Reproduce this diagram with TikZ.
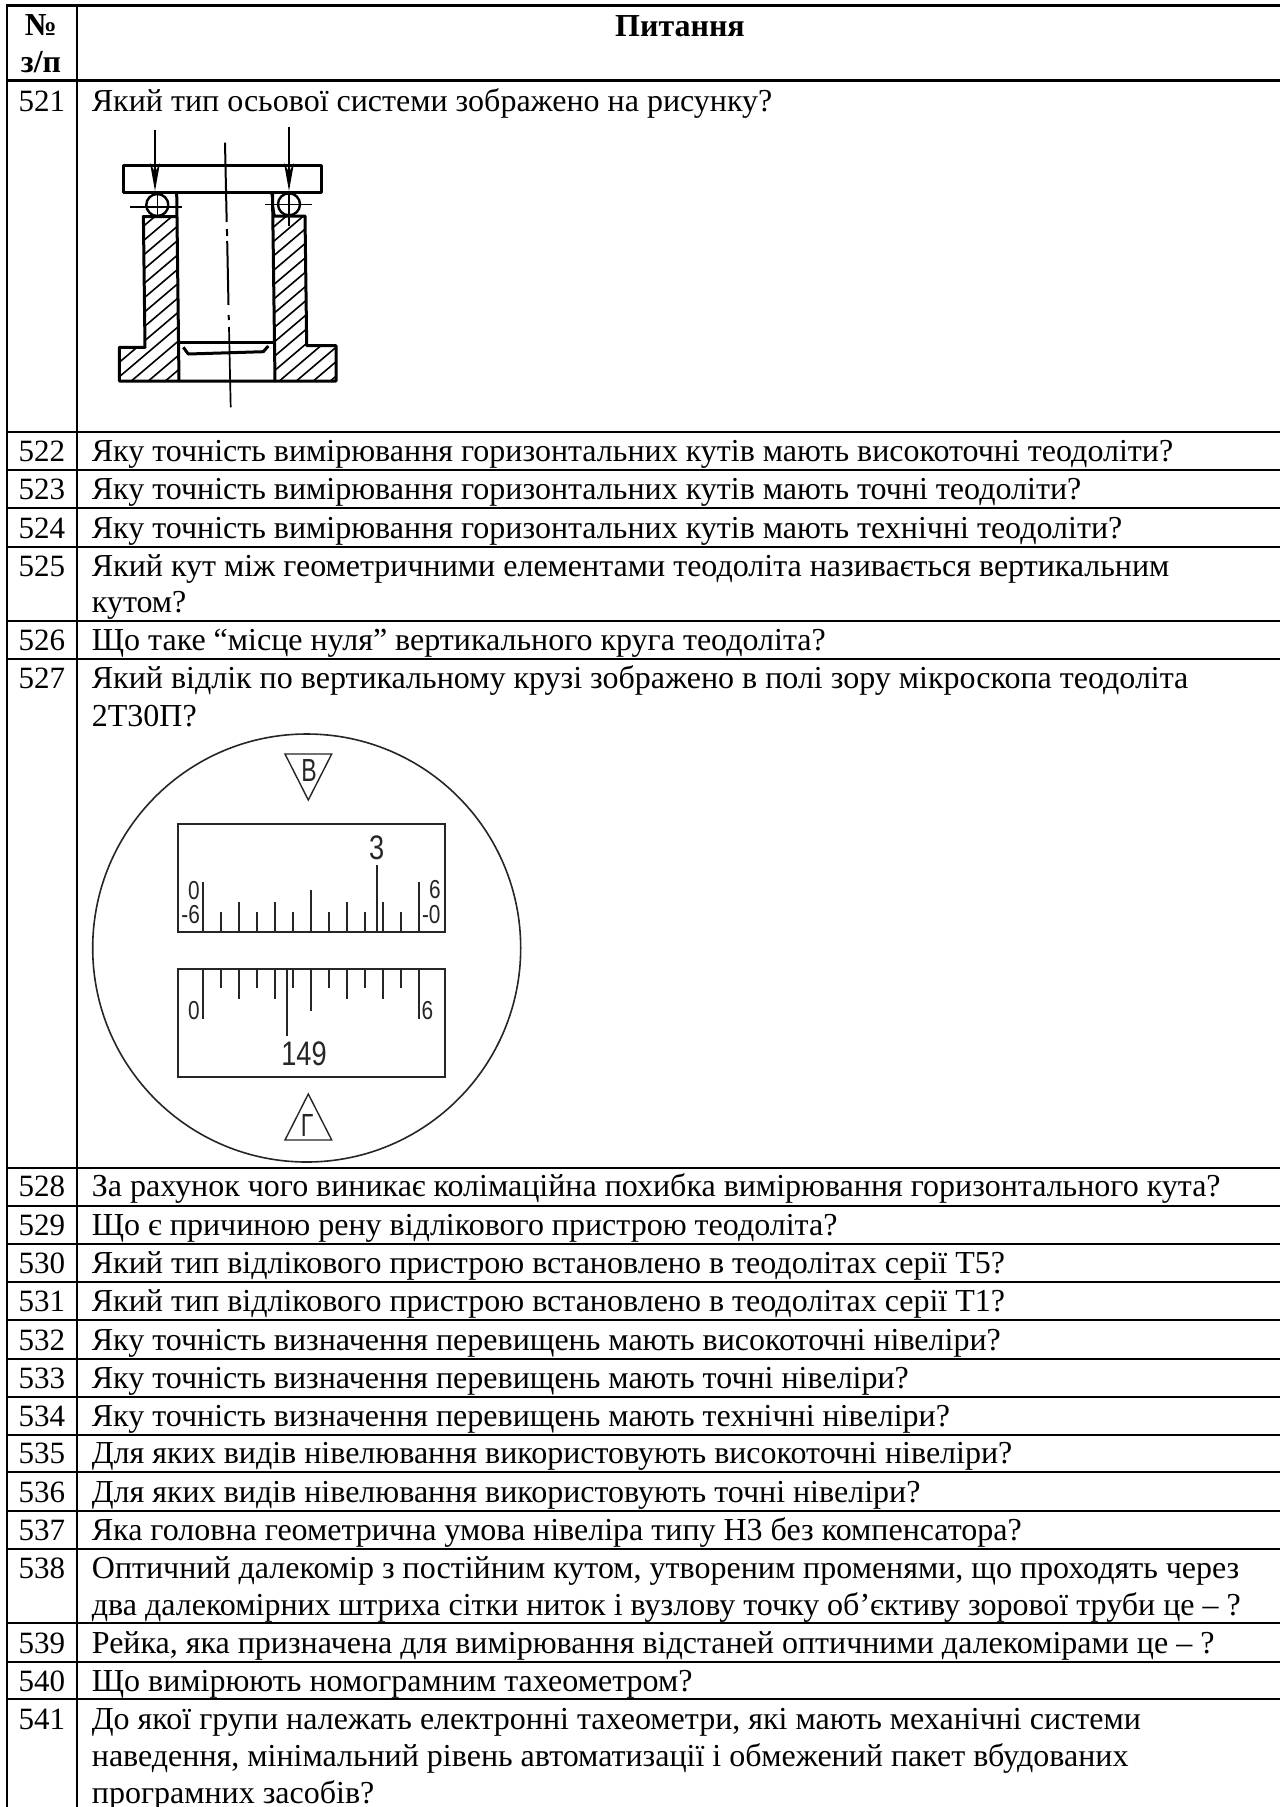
\documentclass[tikz,border=0pt]{standalone}
\usepackage{fontspec}
\setmainfont{Liberation Serif}
\setsansfont{Liberation Sans}
\usepackage{tikz}
\usetikzlibrary{arrows.meta}
\definecolor{dialInk}{gray}{0.15}

\begin{document}
\begin{tikzpicture}[x=1pt,y=-1pt]
	\tikzset{rule/.style = {line width=2.2pt, black}}
	\tikzset{num/.style = {anchor=base west, inner sep=0pt, font=\fontsize{31}{37}\selectfont}}
	\tikzset{ask/.style = {anchor=base west, inner sep=0pt, font=\fontsize{32}{37}\selectfont}}
	\tikzset{head/.style = {anchor=base, inner sep=0pt, font=\fontsize{32}{37}\selectfont\bfseries}}
	\tikzset{outline/.style = {line width=3pt, black, line join=round}}
	\tikzset{thinline/.style = {line width=1.6pt, black}}
	\tikzset{hatchline/.style = {line width=1.6pt, black}}
	\tikzset{pressure/.style = {-{Stealth[length=28pt,width=10pt]}, line width=1.8pt, black}}
	\tikzset{frame/.style = {line width=2pt, dialInk}}
	\tikzset{tick/.style = {line width=1.7pt, dialInk}}
	\tikzset{dial/.style = {inner sep=0pt, text=dialInk, font=\fontsize{26}{26}\selectfont\sffamily, xscale=0.8, transform shape}}
	\tikzset{dialBig/.style = {dial, font=\fontsize{34}{34}\selectfont\sffamily}}
	\tikzset{dialLetter/.style = {dial, font=\fontsize{32}{32}\selectfont\sffamily, xscale=0.9, transform shape}}
	\useasboundingbox (0,0) rectangle (1280,1807);
	\fill[white] (0,0) rectangle (1280,1807);

	% table rules
	\foreach \y in {5.5,80.5,432,470,508,546.7,621,659,1167.7,1205.7,1243.7,1282,1319.7,1358.7,1396.7,1435,1472.3,1510.7,1548.7,1623,1661.7,1699.3}
		\draw[rule] (6,\y) -- (1280,\y);
	\draw[rule] (7,4.4) -- (7,1807);
	\draw[rule] (76.7,4.4) -- (76.7,1807);

	% header
	\node[head] (hno) at (41,35) {№};
	\node[head] (hpp) at (41,72) {з/п};
	\node[head] (hq) at (680,36) {Питання};

	% rows
	\node[num] (n521) at (18.3,111) {521};
	\node[ask] (q521) at (91.7,111) {Який тип осьової системи зображено на рисунку?};
	\node[num] (n522) at (18.3,461.7) {522};
	\node[ask] (q522) at (91.7,461.7) {Яку точність вимірювання горизонтальних кутів мають високоточні теодоліти?};
	\node[num] (n523) at (18.3,499.3) {523};
	\node[ask] (q523) at (91.7,499.3) {Яку точність вимірювання горизонтальних кутів мають точні теодоліти?};
	\node[num] (n524) at (18.3,538.3) {524};
	\node[ask] (q524) at (91.7,538.3) {Яку точність вимірювання горизонтальних кутів мають технічні теодоліти?};
	\node[num] (n525) at (18.3,576) {525};
	\node[ask] (q525) at (91.7,576) {Який кут між геометричними елементами теодоліта називається вертикальним};
	\node[ask] (q525b) at (91.7,612.7) {кутом?};
	\node[num] (n526) at (18.3,650.7) {526};
	\node[ask] (q526) at (91.7,650.7) {Що таке “місце нуля” вертикального круга теодоліта?};
	\node[num] (n527) at (18.3,688.7) {527};
	\node[ask] (q527) at (91.7,688.7) {Який відлік по вертикальному крузі зображено в полі зору мікроскопа теодоліта};
	\node[ask] (q527b) at (91.7,726) {2Т30П?};
	\node[num] (n528) at (18.3,1196.7) {528};
	\node[ask] (q528) at (91.7,1196.7) {За рахунок чого виникає колімаційна похибка вимірювання горизонтального кута?};
	\node[num] (n529) at (18.3,1235) {529};
	\node[ask] (q529) at (91.7,1235) {Що є причиною рену відлікового пристрою теодоліта?};
	\node[num] (n530) at (18.3,1273.3) {530};
	\node[ask] (q530) at (91.7,1273.3) {Який тип відлікового пристрою встановлено в теодолітах серії Т5?};
	\node[num] (n531) at (18.3,1311.7) {531};
	\node[ask] (q531) at (91.7,1311.7) {Який тип відлікового пристрою встановлено в теодолітах серії Т1?};
	\node[num] (n532) at (18.3,1350) {532};
	\node[ask] (q532) at (91.7,1350) {Яку точність визначення перевищень мають високоточні нівеліри?};
	\node[num] (n533) at (18.3,1388) {533};
	\node[ask] (q533) at (91.7,1388) {Яку точність визначення перевищень мають точні нівеліри?};
	\node[num] (n534) at (18.3,1426) {534};
	\node[ask] (q534) at (91.7,1426) {Яку точність визначення перевищень мають технічні нівеліри?};
	\node[num] (n535) at (18.3,1463.3) {535};
	\node[ask] (q535) at (91.7,1463.3) {Для яких видів нівелювання використовують високоточні нівеліри?};
	\node[num] (n536) at (18.3,1502.3) {536};
	\node[ask] (q536) at (91.7,1502.3) {Для яких видів нівелювання використовують точні нівеліри?};
	\node[num] (n537) at (18.3,1540) {537};
	\node[ask] (q537) at (91.7,1540) {Яка головна геометрична умова нівеліра типу Н3 без компенсатора?};
	\node[num] (n538) at (18.3,1578.3) {538};
	\node[ask] (q538) at (91.7,1578.3) {Оптичний далекомір з постійним кутом, утвореним променями, що проходять через};
	\node[ask] (q538b) at (91.7,1615) {два далекомірних штриха сітки ниток і вузлову точку об’єктиву зорової труби це – ?};
	\node[num] (n539) at (18.3,1653.3) {539};
	\node[ask] (q539) at (91.7,1653.3) {Рейка, яка призначена для вимірювання відстаней оптичними далекомірами це – ?};
	\node[num] (n540) at (18.3,1691.7) {540};
	\node[ask] (q540) at (91.7,1691.7) {Що вимірюють номограмним тахеометром?};
	\node[num] (n541) at (18.3,1729) {541};
	\node[ask] (q541) at (91.7,1729) {До якої групи належать електронні тахеометри, які мають механічні системи};
	\node[ask] (q541b) at (91.7,1766) {наведення, мінімальний рівень автоматизації і обмежений пакет вбудованих};
	\node[ask] (q541c) at (91.7,1803) {програмних засобів?};

	% axial system, hatching
	\begin{scope}
		\clip (143.4,216.5) -- (176.8,216.5) -- (179,381) -- (119.3,381) -- (119.3,347.3) -- (145,347.3) -- cycle;
		\foreach \k in {-15,-14,...,20}
			\draw[hatchline] (\k*17-10,400) -- (\k*17+290,145);
	\end{scope}
	\begin{scope}
		\clip (273,216) -- (305,216) -- (306.7,345.5) -- (336,345.5) -- (336,381) -- (275,381) -- cycle;
		\foreach \k in {-15,-14,...,30}
			\draw[hatchline] (\k*17+2,400) -- (\k*17+302,145);
	\end{scope}

	% axial system, outlines
	\draw[outline] (123.3,165) rectangle (321.7,192.7);
	\draw[outline] (176.7,192.7) -- (179,381);
	\draw[outline] (272.5,192.7) -- (275,381);
	\draw[outline] (176.7,216.5) -- (143.4,216.5) -- (145,347.3) -- (119.3,347.3) -- (119.3,381) -- (336,381) -- (336,345.5) -- (306.7,345.5) -- (305,216) -- (273,216);
	\draw[outline] (179,342.7) -- (275,342.7);
	\draw[outline] (183.3,347.3) -- (188.3,354) -- (263.3,351.7) -- (268.3,346);

	% balls and forces
	\node[draw, circle, outline, line width=2.4pt, minimum size=22pt, inner sep=0pt] (ballL) at (157.3,205) {};
	\node[draw, circle, outline, line width=2.4pt, minimum size=22pt, inner sep=0pt] (ballR) at (289,204.3) {};
	\draw[thinline] (130,207) -- (181.7,207);
	\draw[thinline] (265,204.3) -- (311.7,204.3);
	\draw[thinline] (157.3,193) -- (157.3,217);
	\draw[thinline] (289,193) -- (289,226);
	\draw[thinline] (271,193) -- (275,216);
	\coordinate (forceL) at (155,130);
	\coordinate (forceR) at (289,127);
	\coordinate (seatL) at (155,191);
	\coordinate (seatR) at (289,191);
	\draw[pressure] (forceL) -- (seatL);
	\draw[pressure] (forceR) -- (seatR);

	% axis
	\draw[thinline, line width=2pt] (225,142.7) -- (226.7,222);
	\draw[thinline, line width=2pt] (226.9,229) -- (227.1,236);
	\draw[thinline, line width=2pt] (227.2,241) -- (228.5,305);
	\draw[thinline, line width=2pt] (228.7,315) -- (228.8,320);
	\draw[thinline, line width=1.7pt] (229,327) -- (230.7,407.3);

	% dial
	\node[draw, circle, frame, line width=1.6pt, minimum size=428pt, inner sep=0pt] (dial) at (306.7,948) {};
	\draw[frame, line width=1.4pt] (285,754) -- (331.7,754) -- (308.3,800) -- cycle;
	\node[dialLetter, anchor=base] (letB) at (309,781) {В};
	\draw[frame, line width=1.4pt] (285,1140) -- (331.7,1140) -- (308.3,1094) -- cycle;
	\node[dialLetter, anchor=base] (letG) at (307,1136.7) {Г};

	\draw[frame] (177.7,824) rectangle (444.7,932);
	\draw[frame] (177.7,969) rectangle (444.7,1077.3);

	% upper scale
	\foreach \i/\top in {0/882.3,1/912.3,2/902.3,3/912.3,4/902.3,5/912.3,6/890,7/912.3,8/902.3,9/912.3,10/902.3,11/912.3,12/882.3}
		\draw[tick] (203.3+\i*17.97,932) -- (203.3+\i*17.97,\top);
	\draw[tick] (376.7,932) -- (376.7,865);
	\node[dial, anchor=base] (upZero) at (194,899.3) {0};
	\node[dial, anchor=base east] (upMinusSix) at (200,923.3) {-6};
	\node[dial, anchor=base] (upSix) at (435,898.7) {6};
	\node[dial, anchor=base east] (upMinusZero) at (440.7,923.3) {-0};
	\node[dialBig, anchor=base] (upThree) at (376.7,859.3) {3};

	% lower scale
	\foreach \i/\bot in {0/1019,1/988.3,2/999,3/988.3,4/999,5/988.3,6/1011,7/988.3,8/999,9/988.3,10/999,11/988.3,12/1019}
		\draw[tick] (203.3+\i*17.97,969) -- (203.3+\i*17.97,\bot);
	\draw[tick] (287,969) -- (287,1036);
	\node[dial, anchor=base] (lowZero) at (194,1019.3) {0};
	\node[dial, anchor=base] (lowSix) at (427.3,1019.3) {6};
	\node[dialBig, anchor=base] (lowDeg) at (304,1065) {149};
\end{tikzpicture}
\end{document}
